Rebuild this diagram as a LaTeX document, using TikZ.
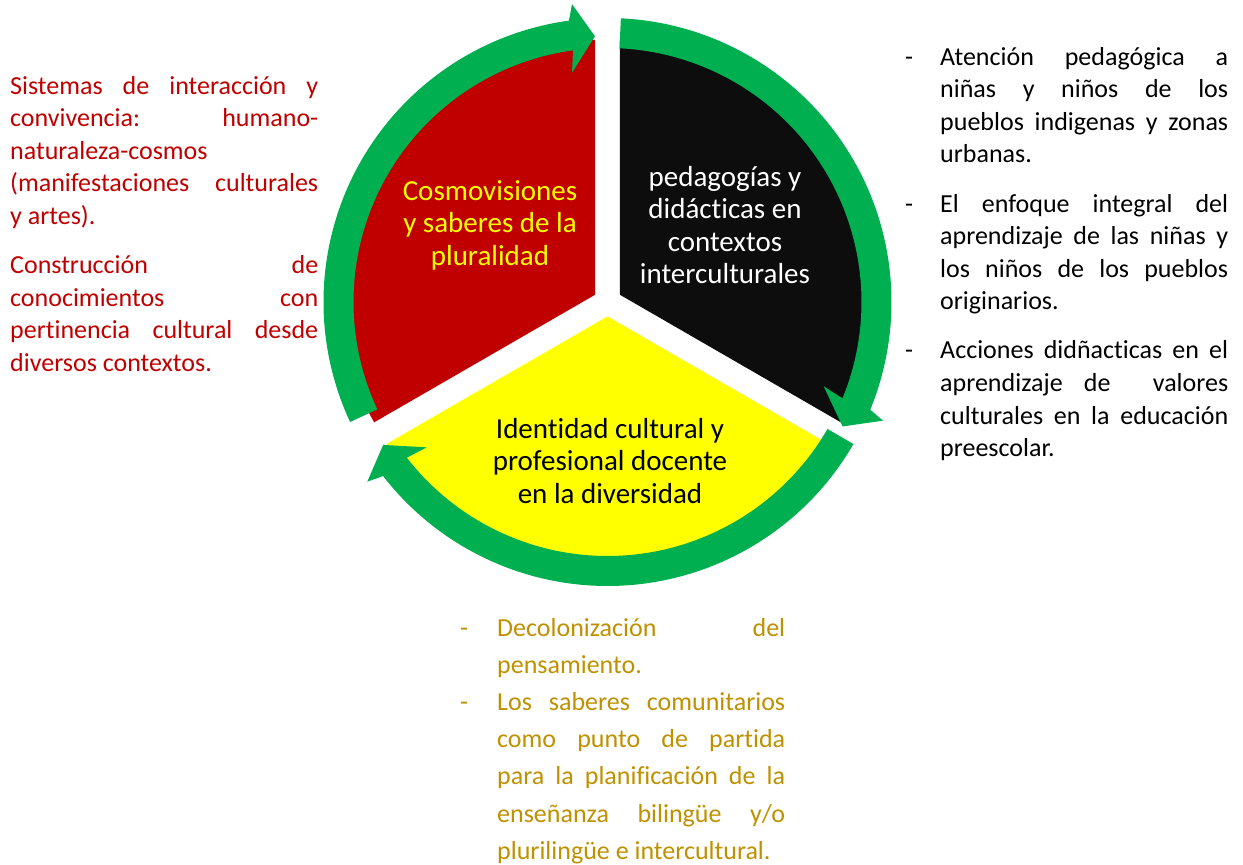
\documentclass[tikz,border=0pt]{standalone}
\usepackage{fontspec}
\setmainfont{Carlito}[Ligatures={TeX,NoCommon}]
\usepackage{tikz}
\usetikzlibrary{positioning}
\definecolor{ringgreen}{HTML}{00B050}
\definecolor{piered}{HTML}{C00000}
\definecolor{pieblack}{HTML}{0D0D0D}
\definecolor{pieyellow}{HTML}{FFFF00}
\definecolor{notegold}{HTML}{BF9000}
\newcommand{\piepart}[1]{\fill[#1] (90:14.4) -- +(30:255) arc[start angle=30, delta angle=120, radius=255] -- cycle;}
\newcommand{\cyclearrow}[3]{\fill[ringgreen] (#1:284) arc[start angle=#1, end angle=#2, radius=284]
					-- ({#2-1}:300) -- (#3:266) -- ({#2+1}:232) -- (#2:254)
					arc[start angle=#2, end angle=#1, radius=254] -- cycle;}
\newcommand{\dashitem}[3]{\noindent\makebox[#1][l]{-}\parbox[t]{#2}{\rule{0pt}{20pt}#3\rule[-7pt]{0pt}{7pt}}\par\prevdepth=7pt}
\tikzset{
	sidetext/.style={inner sep=0pt, anchor=north west, align=justify,
		font={\fontsize{26}{32.6}\selectfont\hyphenpenalty=10000 \tolerance=10000 \parindent=0pt}},
	pietext/.style={inner sep=0pt, align=center, font=\fontsize{29}{32.4}\selectfont}
}

\begin{document}
\begin{tikzpicture}[x=1pt, y=1pt]

					\useasboundingbox (0,0) rectangle (1243,865);

					\begin{scope}[shift={(607.5,563)}, rotate = 60]
						\piepart{piered}
					\end{scope}

					\begin{scope}[shift={(607.5,563)}, rotate = -60]
						\piepart{pieblack}
					\end{scope}

					\begin{scope}[shift={(607.5,563)}, rotate = 180]
						\piepart{pieyellow}
					\end{scope}

					\begin{scope}[shift={(607.5,563)}]
						\cyclearrow{205}{97.8}{92.7}
						\cyclearrow{87.3}{-22.3}{-27.9}
						\cyclearrow{-30}{-142.2}{-147.5}
					\end{scope}

					\node[pietext, text=pieyellow] (cosmovision) at (490,640) {Cosmovisiones\\y saberes de la\\pluralidad};
					\node[pietext, text=white] (pedagogy) at (725,640) {pedagogías y\\didácticas en\\contextos\\interculturales};
					\node[pietext, text=black] (identity) at (610,404) {Identidad cultural y\\profesional docente\\en la diversidad};

					\node[sidetext, text width=308pt, text=piered] (cosmosnote) at (10,791)
						{\rule{0pt}{20pt}Sistemas de interacción y\linebreak convivencia: humano-\linebreak naturaleza-cosmos\linebreak (manifestaciones culturales\linebreak y artes).\par\vskip16.5pt
						Construcción de\linebreak conocimientos con\linebreak pertinencia cultural desde\linebreak diversos contextos.};

					\node[sidetext, text width=323pt] (pedagogynote) at (905,820)
						{\dashitem{35pt}{288pt}{Atención pedagógica a\linebreak niñas y niños de los\linebreak pueblos indigenas y zonas\linebreak urbanas.}\vskip16.5pt
						\dashitem{35pt}{288pt}{El enfoque integral del\linebreak aprendizaje de las niñas y\linebreak los niños de los pueblos\linebreak originarios.}\vskip16.5pt
						\dashitem{35pt}{288pt}{Acciones didñacticas en el\linebreak aprendizaje de \ valores\linebreak culturales en la educación\linebreak preescolar.}};

					\node[sidetext, text width=325pt, text=notegold, font={\fontsize{26}{37.2}\selectfont\hyphenpenalty=10000 \tolerance=10000 \parindent=0pt}] (identitynote) at (460,249)
						{\dashitem{37pt}{288pt}{Decolonización del\linebreak pensamiento.}
						\dashitem{37pt}{288pt}{Los saberes comunitarios\linebreak como punto de partida\linebreak para la planificación de la\linebreak enseñanza bilingüe y/o\linebreak plurilingüe e intercultural.}};

\end{tikzpicture}
\end{document}
